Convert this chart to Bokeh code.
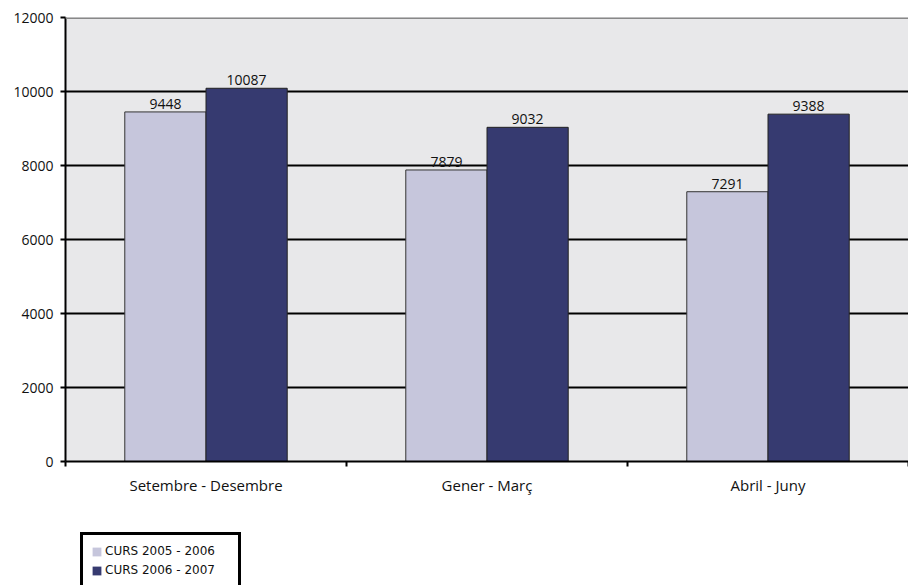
from bokeh.plotting import figure
from bokeh.layouts import column
from bokeh.models import FixedTicker, Legend, LegendItem, ColumnDataSource, Span
from bokeh.core.properties import value
from bokeh.embed import file_html
from bokeh.resources import INLINE

categories = ["Setembre - Desembre", "Gener - Març", "Abril - Juny"]
curs_2005_2006 = [9448, 7879, 7291]
curs_2006_2007 = [10087, 9032, 9388]
series_names = ["CURS 2005 - 2006", "CURS 2006 - 2007"]
y_ticks = [0, 2000, 4000, 6000, 8000, 10000, 12000]

LIGHT = "#C6C6DC"
DARK = "#363A70"
BG = "#E8E8EA"
FONT = "Open Sans"

bar_w = 0.289
centers = [i + 0.5 for i in range(len(categories))]

p = figure(width=908, height=500, x_range=(0, len(categories)), y_range=(0, 12000),
           output_backend="svg", toolbar_location=None,
           min_border_left=65, min_border_right=0, min_border_top=17, min_border_bottom=39)
p.background_fill_color = BG
p.border_fill_color = "white"
p.outline_line_color = None
p.add_layout(Span(location=y_ticks[-1], dimension="width", line_color="#888888", line_width=3))

src1 = ColumnDataSource(dict(x=[c - bar_w / 2 for c in centers], top=curs_2005_2006,
                             lab=[str(v) for v in curs_2005_2006]))
src2 = ColumnDataSource(dict(x=[c + bar_w / 2 for c in centers], top=curs_2006_2007,
                             lab=[str(v) for v in curs_2006_2007]))

p.vbar(x="x", top="top", width=bar_w, source=src1, fill_color=LIGHT,
       line_color="#333333", line_width=1)
p.vbar(x="x", top="top", width=bar_w, source=src2, fill_color=DARK,
       line_color="#222222", line_width=1)

for s in (src1, src2):
    p.text(x="x", y="top", text="lab", source=s, text_align="center",
           text_baseline="bottom", y_offset=-3, text_font_size="14px",
           text_font=value(FONT), text_color="#111111")

# axes
xa = p.xaxis[0]
xa.ticker = FixedTicker(ticks=centers, minor_ticks=[0, 1, 2, 3])
xa.major_label_overrides = {c: cat for c, cat in zip(centers, categories)}
xa.major_tick_line_color = None
xa.minor_tick_line_color = "black"
xa.minor_tick_line_width = 2
xa.minor_tick_out = 5
xa.minor_tick_in = 0
xa.axis_line_color = "black"
xa.axis_line_width = 2
xa.major_label_text_font = FONT
xa.major_label_text_font_size = "15px"
xa.major_label_text_color = "#111111"
xa.major_label_standoff = 7

ya = p.yaxis[0]
ya.ticker = FixedTicker(ticks=y_ticks)
ya.minor_tick_line_color = None
ya.major_tick_line_color = "black"
ya.major_tick_line_width = 2
ya.major_tick_out = 5
ya.major_tick_in = 0
ya.axis_line_color = "black"
ya.axis_line_width = 2
ya.major_label_text_font = FONT
ya.major_label_text_font_size = "14px"
ya.major_label_text_color = "#111111"
ya.major_label_standoff = 7

p.xgrid.grid_line_color = None
p.ygrid.ticker = FixedTicker(ticks=y_ticks[1:-1])
p.ygrid.grid_line_color = "black"
p.ygrid.grid_line_width = 2

# legend panel (separate strip below the chart)
pl = figure(width=908, height=85, x_range=(0, 1), y_range=(0, 1),
            output_backend="svg", toolbar_location=None,
            min_border_left=0, min_border_right=0, min_border_top=0, min_border_bottom=0)
pl.axis.visible = False
pl.grid.visible = False
pl.outline_line_color = None
pl.background_fill_color = "white"
lr1 = pl.vbar(x=[-5], top=[0], width=0.1, fill_color=LIGHT, line_color=None)
lr2 = pl.vbar(x=[-5], top=[0], width=0.1, fill_color=DARK, line_color=None)

legend = Legend(items=[LegendItem(label=series_names[0], renderers=[lr1]),
                       LegendItem(label=series_names[1], renderers=[lr2])],
                location=(15, -4), orientation="vertical")
legend.padding = 8
legend.spacing = 3
legend.margin = 0
legend.label_height = 16
legend.glyph_height = 11
legend.glyph_width = 11
legend.label_standoff = 3
legend.label_width = 125
legend.label_text_font = "DejaVu Sans"
legend.label_text_font_size = "12px"
legend.label_text_color = "#111111"
legend.border_line_color = "black"
legend.border_line_width = 3
legend.border_line_alpha = 1
legend.background_fill_color = "white"
legend.background_fill_alpha = 1
pl.add_layout(legend, "center")

layout = column(p, pl, spacing=0)
open("out.html", "w").write(file_html(layout, INLINE))
